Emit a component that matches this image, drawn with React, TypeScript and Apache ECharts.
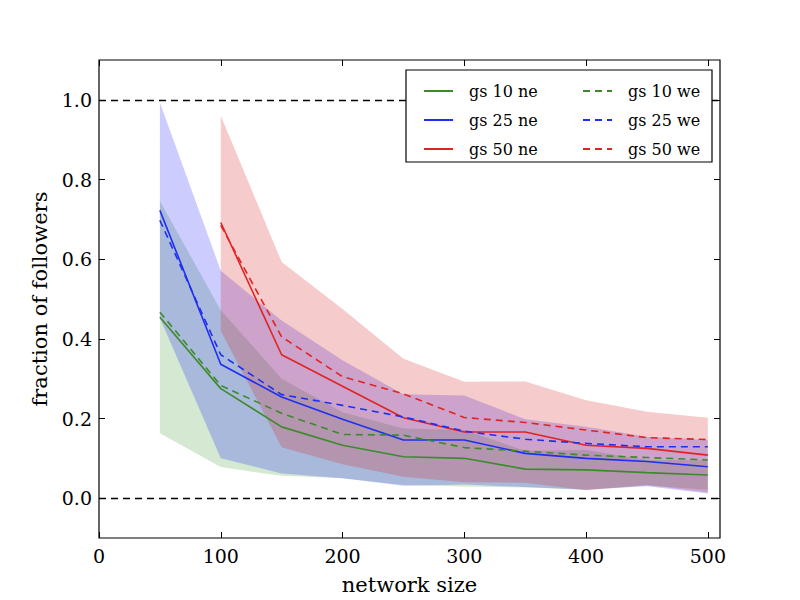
import React, { useEffect, useRef } from "react";
import * as echarts from "echarts";

const xs = [50, 100, 150, 200, 250, 300, 350, 400, 450, 500];
const xs50 = [100, 150, 200, 250, 300, 350, 400, 450, 500];

const gs10ne = [0.454, 0.275, 0.179, 0.133, 0.104, 0.1, 0.073, 0.071, 0.064, 0.058];
const gs10we = [0.467, 0.283, 0.213, 0.16, 0.158, 0.127, 0.118, 0.108, 0.102, 0.096];
const gs10lo = [0.163, 0.078, 0.056, 0.05, 0.033, 0.029, 0.027, 0.021, 0.032, 0.021];
const gs10hi = [0.746, 0.472, 0.3, 0.216, 0.175, 0.171, 0.119, 0.121, 0.096, 0.095];

const gs25ne = [0.7225, 0.336, 0.254, 0.198, 0.146, 0.146, 0.1125, 0.1, 0.092, 0.079];
const gs25we = [0.6975, 0.36, 0.26, 0.233, 0.204, 0.168, 0.148, 0.1375, 0.129, 0.129];
const gs25lo = [0.452, 0.1, 0.062, 0.05, 0.031, 0.034, 0.028, 0.021, 0.03, 0.012];
const gs25hi = [0.993, 0.571, 0.446, 0.346, 0.261, 0.258, 0.198, 0.179, 0.154, 0.146];

const gs50ne = [0.692, 0.36, 0.281, 0.202, 0.166, 0.166, 0.133, 0.125, 0.108];
const gs50we = [0.685, 0.405, 0.305, 0.262, 0.2025, 0.19, 0.171, 0.152, 0.147];
const gs50lo = [0.42, 0.128, 0.085, 0.054, 0.04, 0.039, 0.02, 0.033, 0.014];
const gs50hi = [0.96, 0.593, 0.475, 0.35, 0.292, 0.293, 0.246, 0.217, 0.202];

const xTicks = [0, 100, 200, 300, 400, 500];
const yTicks = [0, 0.2, 0.4, 0.6, 0.8, 1.0];

const GREEN = "#3d8a2c";
const BLUE = "#1f2ff0";
const RED = "#e02424";
const FONT = "DejaVu Serif";

function pairs(x: number[], y: number[]) {
  return x.map((v, i) => [v, y[i]]);
}

function band(name: string, x: number[], lo: number[], hi: number[], fill: string) {
  return {
    name,
    type: "custom",
    data: x.map((v, i) => [v, lo[i], hi[i]]),
    encode: { x: 0, y: [1, 2] },
    silent: true,
    z: 1,
    renderItem: (params: any, api: any) => {
      if (params.dataIndex !== 0) return null;
      const top = x.map((v, i) => api.coord([v, hi[i]]));
      const bottom = x.map((v, i) => api.coord([v, lo[i]])).reverse();
      return {
        type: "polygon",
        shape: { points: top.concat(bottom) },
        style: { fill },
      };
    },
  };
}

function line(name: string, x: number[], y: number[], color: string, dashed: boolean) {
  return {
    name,
    type: "line",
    data: pairs(x, y),
    symbol: "none",
    lineStyle: { color, width: 1.6, type: dashed ? [7, 5] : "solid" },
    itemStyle: { color },
    z: 3,
  };
}

export default function App() {
  const ref = useRef<HTMLDivElement>(null);
  useEffect(() => {
    if (!ref.current) return;
    const chart = echarts.init(ref.current, null, { renderer: "svg" });
    const tickStyle = { show: true, inside: true, length: 6, lineStyle: { color: "#000", width: 1 } };
    const legendText = { fontFamily: FONT, fontSize: 16, color: "#000", lineHeight: 20, padding: [0, 0, 0, 11] };
    const legendCommon = {
      orient: "vertical",
      top: 76,
      itemWidth: 29,
      itemHeight: 12,
      itemGap: 9,
      textStyle: legendText,
      itemStyle: { opacity: 0 },
      z: 11,
    };
    chart.setOption({
      animation: false,
      backgroundColor: "#fff",
      grid: { left: 99, right: 80, top: 60, bottom: 60, show: true, borderColor: "#000", borderWidth: 1.2, backgroundColor: "transparent" },
      xAxis: [
        {
          type: "value",
          min: 0,
          max: 510,
          axisLine: { show: false, onZero: false },
          axisTick: { ...tickStyle, customValues: xTicks },
          axisLabel: { customValues: xTicks, fontFamily: FONT, fontSize: 19, color: "#000", margin: 8 },
          splitLine: { show: false },
          name: "network size",
          nameLocation: "middle",
          nameGap: 36,
          nameTextStyle: { fontFamily: FONT, fontSize: 21, color: "#000" },
        },
        {
          type: "value",
          position: "top",
          min: 0,
          max: 510,
          axisLine: { show: false, onZero: false },
          axisTick: { ...tickStyle, customValues: xTicks },
          axisLabel: { show: false, customValues: xTicks },
          splitLine: { show: false },
        },
      ],
      yAxis: [
        {
          type: "value",
          min: -0.1,
          max: 1.1,
          axisLine: { show: false, onZero: false },
          axisTick: { ...tickStyle, customValues: yTicks },
          axisLabel: {
            customValues: yTicks,
            formatter: (v: number) => v.toFixed(1),
            fontFamily: FONT,
            fontSize: 19,
            color: "#000",
            margin: 7,
          },
          splitLine: { show: false },
          name: "fraction of followers",
          nameLocation: "middle",
          nameGap: 44,
          nameTextStyle: { fontFamily: FONT, fontSize: 21, color: "#000" },
        },
        {
          type: "value",
          position: "right",
          min: -0.1,
          max: 1.1,
          axisLine: { show: false, onZero: false },
          axisTick: { ...tickStyle, customValues: yTicks },
          axisLabel: { show: false, customValues: yTicks },
          splitLine: { show: false },
        },
      ],
      legend: [
        { ...legendCommon, left: 418, data: ["gs 10 ne", "gs 25 ne", "gs 50 ne"] },
        { ...legendCommon, left: 577, data: ["gs 10 we", "gs 25 we", "gs 50 we"] },
      ],
      graphic: [
        {
          type: "rect",
          shape: { x: 406, y: 70, width: 306, height: 92 },
          style: { fill: "#fff", stroke: "#000", lineWidth: 1.2 },
          z: 10,
        },
      ],
      series: [
        band("b10", xs, gs10lo, gs10hi, "rgba(40,140,30,0.2)"),
        band("b25", xs, gs25lo, gs25hi, "rgba(0,0,255,0.2)"),
        band("b50", xs50, gs50lo, gs50hi, "rgba(210,30,30,0.23)"),
        {
          ...line("gs 10 ne", xs, gs10ne, GREEN, false),
          markLine: {
            silent: true,
            symbol: "none",
            label: { show: false },
            lineStyle: { color: "#000", width: 1.3, type: [7, 5] },
            data: [{ yAxis: 1 }, { yAxis: 0 }],
          },
        },
        line("gs 25 ne", xs, gs25ne, BLUE, false),
        line("gs 50 ne", xs50, gs50ne, RED, false),
        line("gs 10 we", xs, gs10we, GREEN, true),
        line("gs 25 we", xs, gs25we, BLUE, true),
        line("gs 50 we", xs50, gs50we, RED, true),
      ],
    });
    return () => chart.dispose();
  }, []);
  return <div ref={ref} style={{ position: "absolute", left: 0, top: 0, width: 800, height: 600 }} />;
}
